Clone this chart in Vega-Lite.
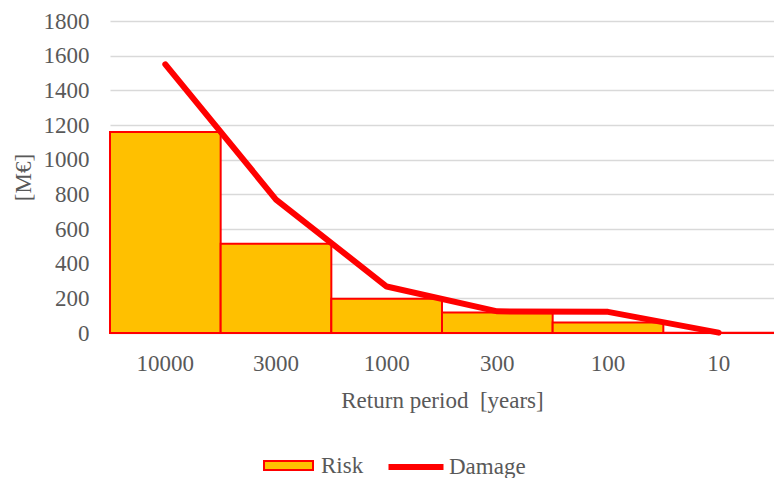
{
  "$schema": "https://vega.github.io/schema/vega-lite/v6.json",
  "autosize": {"type": "none"},
  "padding": {"left": 110, "top": 21, "right": 0, "bottom": 145},
  "width": 664,
  "height": 312,
  "background": "white",
  "config": {
    "view": {"stroke": null},
    "font": "Liberation Serif",
    "axis": {
      "labelFont": "Liberation Serif",
      "titleFont": "Liberation Serif",
      "labelFontSize": 23,
      "titleFontSize": 23,
      "labelColor": "#595959",
      "titleColor": "#595959",
      "titleFontWeight": "normal"
    },
    "axisY": {
      "values": [0, 200, 400, 600, 800, 1000, 1200, 1400, 1600, 1800],
      "format": "d",
      "labelOverlap": false,
      "domain": false,
      "ticks": false,
      "tickSize": 0,
      "labelPadding": 21,
      "gridColor": "#D9D9D9",
      "gridWidth": 1.5,
      "titleX": -87,
      "titleY": 156,
      "titleAngle": -90,
      "titleAlign": "center",
      "titleBaseline": "middle"
    },
    "legend": {
      "orient": "none",
      "direction": "horizontal",
      "title": null,
      "padding": 0,
      "symbolSize": 400,
      "labelFont": "Liberation Serif",
      "labelFontSize": 23,
      "labelColor": "#595959",
      "symbolOpacity": 1
    }
  },
  "data": {
    "values": [
      {"period": "10000", "risk": 1160, "damage": 1550},
      {"period": "3000", "risk": 515, "damage": 770},
      {"period": "1000", "risk": 198, "damage": 268},
      {"period": "300", "risk": 118, "damage": 125},
      {"period": "100", "risk": 60, "damage": 122},
      {"period": "10", "risk": 2, "damage": 2}
    ]
  },
  "encoding": {
    "x": {
      "field": "period",
      "type": "ordinal",
      "sort": null,
      "scale": {"paddingInner": 0, "paddingOuter": 0},
      "axis": {
        "title": "Return period\u00a0 [years]",
        "labelAngle": 0,
        "ticks": false,
        "tickSize": 0,
        "domain": false,
        "labelPadding": 19,
        "titleY": 74,
        "titleBaseline": "alphabetic"
      }
    }
  },
  "layer": [
    {
      "mark": {"type": "bar", "stroke": "#FF0000", "strokeWidth": 2, "opacity": 1},
      "encoding": {
        "y": {
          "field": "risk",
          "type": "quantitative",
          "scale": {"domain": [0, 1800], "nice": false},
          "axis": {"title": "[M€]"}
        },
        "fill": {
          "datum": "Risk",
          "scale": {"domain": ["Risk"], "range": ["#FFC000"]},
          "legend": {
            "legendX": 167,
            "legendY": 433,
            "labelOffset": 21,
            "labelColor": "#595959",
            "symbolType": "M-2.45,-0.45H2.45V0.45H-2.45Z",
            "symbolStrokeColor": "#FF0000",
            "symbolStrokeWidth": 2,
            "encode": {"labels": {"fill": {"value": "#595959"}}}
          }
        }
      }
    },
    {
      "mark": {"type": "line", "strokeWidth": 6, "strokeCap": "round", "strokeJoin": "round"},
      "encoding": {
        "y": {"field": "damage", "type": "quantitative"},
        "stroke": {
          "datum": "Damage",
          "scale": {"domain": ["Damage"], "range": ["#FF0000"]},
          "legend": {
            "legendX": 293,
            "legendY": 433,
            "labelOffset": 20,
            "labelColor": "#595959",
            "symbolType": "M-2.75,0H2.75",
            "symbolStrokeWidth": 6
          }
        }
      }
    }
  ]
}
